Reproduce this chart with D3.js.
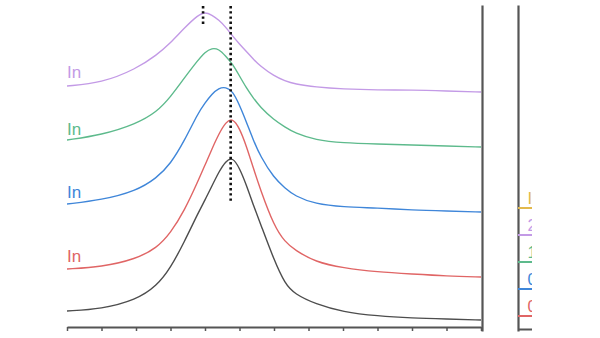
<!DOCTYPE html>
<html>
<head>
<meta charset="utf-8">
<script src="https://cdn.jsdelivr.net/npm/d3@7"></script>
<style>
  html, body { margin: 0; padding: 0; background: #fff; }
  svg { display: block; }
</style>
</head>
<body>
<svg id="chart" width="600" height="338"></svg>
<script>
// Wavelength grid (nm) shared by every spectrum
const wavelengths = [450, 475, 500, 515, 525, 535, 545, 550, 555, 560, 565, 570, 575, 580, 585, 590, 600, 608, 615, 630, 650, 675, 700, 725, 750];

// Stacked absorbance spectra (offset, a.u.)
const seriesBlack  = [0.16, 0.18, 0.27, 0.41, 0.59, 0.85, 1.14, 1.27, 1.41, 1.55, 1.66, 1.70, 1.59, 1.42, 1.22, 1.04, 0.67, 0.43, 0.33, 0.23, 0.15, 0.11, 0.09, 0.08, 0.07];
const seriesRed    = [0.58, 0.60, 0.68, 0.79, 0.94, 1.16, 1.46, 1.62, 1.78, 1.93, 2.05, 2.09, 1.99, 1.81, 1.59, 1.38, 1.01, 0.85, 0.77, 0.65, 0.59, 0.55, 0.53, 0.51, 0.50];
const seriesBlue   = [1.23, 1.27, 1.36, 1.49, 1.63, 1.86, 2.14, 2.24, 2.33, 2.39, 2.40, 2.36, 2.22, 2.05, 1.87, 1.71, 1.49, 1.39, 1.31, 1.23, 1.20, 1.19, 1.17, 1.16, 1.15];
const seriesGreen  = [1.87, 1.92, 2.03, 2.15, 2.30, 2.49, 2.67, 2.75, 2.79, 2.78, 2.71, 2.63, 2.51, 2.39, 2.29, 2.20, 2.07, 2.00, 1.94, 1.87, 1.84, 1.83, 1.82, 1.81, 1.80];
const seriesPurple = [2.41, 2.44, 2.58, 2.72, 2.84, 2.99, 3.12, 3.15, 3.12, 3.07, 3.00, 2.91, 2.83, 2.755, 2.68, 2.61, 2.51, 2.46, 2.43, 2.40, 2.38, 2.37, 2.37, 2.36, 2.35];

const seriesNames  = ["black", "red", "blue", "green", "purple"];
const seriesColors = ["#4d4d4d", "#e06565", "#3f86d9", "#5dba8c", "#c39ae6"];
const seriesValues = [seriesBlack, seriesRed, seriesBlue, seriesGreen, seriesPurple];

// Curve tags drawn at the left end of each offset spectrum
const tagText   = ["In", "In", "In", "In"];
const tagSeries = ["red", "blue", "green", "purple"];
const tagValues = [0.65, 1.29, 1.92, 2.49];

// Peak markers (nm)
const peakMain = 568.6;
const peakPurple = 548.6;
const peakMainTop = 1.25;
const peakPurpleTop = 3.01;

// Legend of the neighbouring panel
const legendLabels = ["In", "2 h", "1 h", "0.5 h", "0 h"];
const legendColors = ["#e2b94c", "#c39ae6", "#5dba8c", "#3f86d9", "#e06565"];

// Axis ticks (nm)
const xTicks = d3.range(450, 751, 25);

const svg = d3.select("#chart");
const axisColor = "#555";

const x = d3.scaleLinear().domain([450, 750]).range([67, 481]);
const y = d3.scaleLinear().domain([0, 3.22]).range([327, 5]);

const defs = svg.append("defs");
defs.append("clipPath").attr("id", "plotClip")
  .append("rect").attr("x", 67).attr("y", 0).attr("width", 414).attr("height", 338);

const plot = svg.append("g").attr("clip-path", "url(#plotClip)");

const line = d3.line()
  .x(d => x(d[0]))
  .y(d => y(d[1]))
  .curve(d3.curveBasis);

seriesValues.forEach((vals, i) => {
  plot.append("path")
    .datum(wavelengths.map((w, j) => [w, vals[j]]))
    .attr("fill", "none")
    .attr("stroke", seriesColors[i])
    .attr("stroke-width", 1.4)
    .attr("d", line);
});

// Dotted peak markers
[[peakMain, peakMainTop], [peakPurple, peakPurpleTop]].forEach(([wl, bottom]) => {
  plot.append("line")
    .attr("x1", x(wl)).attr("x2", x(wl))
    .attr("y1", y(3.22) + 1).attr("y2", y(bottom))
    .attr("stroke", "#111").attr("stroke-width", 2.6)
    .attr("stroke-dasharray", "2.4,2.8");
});

// Curve tags
tagText.forEach((t, i) => {
  plot.append("text")
    .attr("x", x(450))
    .attr("y", y(tagValues[i]))
    .attr("fill", seriesColors[seriesNames.indexOf(tagSeries[i])])
    .attr("font-family", "Liberation Sans, Arial, sans-serif")
    .attr("font-size", 17)
    .text(t);
});

// Bottom axis with ticks, no labels
const xAxis = svg.append("g")
  .attr("transform", "translate(0,327)")
  .call(d3.axisBottom(x).tickValues(xTicks).tickSize(4).tickSizeOuter(0).tickFormat(""));
xAxis.select(".domain").attr("stroke", axisColor).attr("stroke-width", 2);
xAxis.selectAll(".tick line").attr("stroke", axisColor).attr("stroke-width", 1.5);

// Right frame axis
const yRight = d3.scaleLinear().domain([0, 1]).range([331, 5]);
const rAxis = svg.append("g")
  .attr("transform", "translate(482,0)")
  .call(d3.axisRight(yRight).ticks(0).tickSizeOuter(0));
rAxis.select(".domain").attr("stroke", axisColor).attr("stroke-width", 2.2);

// Neighbouring panel: left axis, base line and legend
defs.append("clipPath").attr("id", "panelClip")
  .append("rect").attr("x", 510).attr("y", 0).attr("width", 22).attr("height", 338);
const panel2 = svg.append("g").attr("clip-path", "url(#panelClip)");

const lAxis = panel2.append("g")
  .attr("transform", "translate(518,0)")
  .call(d3.axisLeft(yRight).ticks(0).tickSizeOuter(0));
lAxis.select(".domain").attr("stroke", axisColor).attr("stroke-width", 2.2);

const x2 = d3.scaleLinear().domain([0, 1]).range([518, 600]);
const bAxis = panel2.append("g")
  .attr("transform", "translate(0,329)")
  .call(d3.axisBottom(x2).ticks(0).tickSizeOuter(0));
bAxis.select(".domain").attr("stroke", axisColor).attr("stroke-width", 2);

const legendY = d3.scalePoint().domain(legendLabels).range([208, 316]);
legendLabels.forEach((lab, i) => {
  const ly = legendY(lab);
  panel2.append("line")
    .attr("x1", 518).attr("x2", 560)
    .attr("y1", ly).attr("y2", ly)
    .attr("stroke", legendColors[i]).attr("stroke-width", 1.8);
  panel2.append("text")
    .attr("x", 527.5).attr("y", ly - 4)
    .attr("fill", legendColors[i])
    .attr("font-family", "Liberation Sans, Arial, sans-serif")
    .attr("font-size", 16.5)
    .text(lab);
});
</script>
</body>
</html>
